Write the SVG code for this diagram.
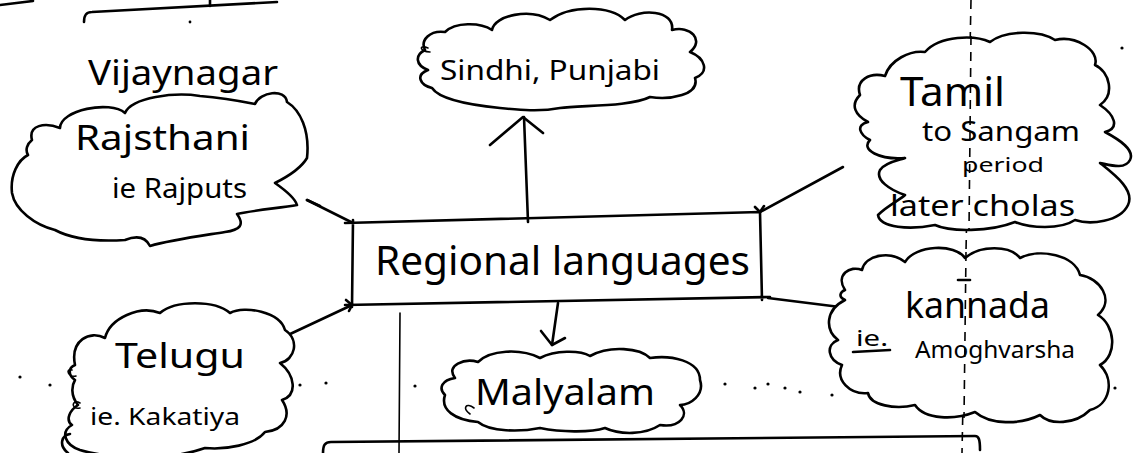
<svg xmlns="http://www.w3.org/2000/svg" width="1138" height="453" viewBox="0 0 1138 453">
  <style>
    .ink { fill: none; stroke: #000; stroke-width: 2.6; stroke-linecap: round; stroke-linejoin: round; }
    .thin { fill: none; stroke: #000; stroke-width: 1.6; stroke-linecap: round; }
    .dash { fill: none; stroke: #000; stroke-width: 1.6; stroke-dasharray: 9 7; }
    .cloud { fill: #fff; stroke: #000; stroke-width: 2.6; stroke-linejoin: round; }
    .hand { font-family: "Noto Sans", "DejaVu Sans", sans-serif; fill: #000; }
    .dot { fill: #000; }
  </style>
  <rect width="1138" height="453" fill="#fff"/>

  <!-- page rules and guide lines -->
  <g id="guides">
    <path class="ink" d="M0,5 L33,1"/>
    <path class="ink" d="M84,22 C84,15 86,12 92,12 L277,2"/>
    <path class="ink" d="M210,0 L210,6"/>
    <path class="dash" d="M971,0 L962,453"/>
    <path class="thin" d="M400,313 L399,453"/>
    <path class="ink" d="M323,453 C323,445 325,442 331,442 L975,436 C979,436 980,440 980,450"/>
    <g class="dot">
      <circle cx="20" cy="377" r="1.6"/><circle cx="50" cy="385" r="1.6"/><circle cx="140" cy="383" r="1.6"/>
      <circle cx="165" cy="382" r="1.6"/><circle cx="200" cy="381" r="1.6"/><circle cx="250" cy="386" r="1.6"/>
      <circle cx="300" cy="385" r="1.6"/><circle cx="326" cy="383" r="1.6"/><circle cx="415" cy="386" r="1.6"/>
      <circle cx="685" cy="387" r="1.6"/><circle cx="725" cy="384" r="1.6"/><circle cx="755" cy="388" r="1.6"/>
      <circle cx="768" cy="384" r="1.6"/><circle cx="785" cy="388" r="1.6"/><circle cx="800" cy="392" r="1.6"/>
      <circle cx="832" cy="395" r="1.6"/><circle cx="905" cy="388" r="1.6"/><circle cx="920" cy="387" r="1.6"/>
      <circle cx="953" cy="391" r="1.6"/><circle cx="984" cy="387" r="1.6"/><circle cx="1010" cy="390" r="1.6"/>
      <circle cx="1050" cy="388" r="1.6"/><circle cx="1065" cy="387" r="1.6"/><circle cx="1078" cy="389" r="1.6"/>
      <circle cx="1115" cy="388" r="1.6"/><circle cx="1122" cy="48" r="1.6"/><circle cx="190" cy="22" r="1.4"/>
    </g>
  </g>

  <!-- connectors from the central box -->
  <g id="connectors">
    <path class="ink" d="M528,222 L524,117"/>
    <path class="ink" d="M490,145 L523,117 L543,133"/>
    <path class="ink" d="M353,223 L307,200"/>
    <path class="ink" d="M307,200 L320,206"/>
    <path class="ink" d="M760,212 L843,167"/>
    <path class="ink" d="M755,207 L760,212 L764,206"/>
    <path class="ink" d="M768,298 L848,308"/>
    <path class="ink" d="M352,305 L288,335"/>
    <path class="ink" d="M346,300 L352,305 L349,311"/>
    <path class="ink" d="M558,303 L552,345"/>
    <path class="ink" d="M541,331 L552,345 L565,338"/>
  </g>

  <g id="heading-vijaynagar">
    <text class="hand" x="88" y="85" font-size="34" textLength="190" lengthAdjust="spacingAndGlyphs">Vijaynagar</text>
  </g>

  <g id="node-rajasthani">
    <path class="cloud" d="M32,140 C28,125 45,122 60,128 C60,110 110,100 125,113 C132,97 175,92 200,96 C225,98 245,102 255,104 C260,92 285,88 287,102 C300,110 310,130 307,158 C300,170 285,178 275,183 C285,190 295,198 297,205 C280,208 255,210 237,214 C245,225 240,230 225,232 C200,236 170,240 150,246 C145,236 135,236 125,240 C95,242 70,238 55,230 C35,225 15,210 12,193 C10,175 18,160 28,155 C25,150 27,144 32,140 Z"/>
    <text class="hand" x="75" y="150" font-size="34" textLength="175" lengthAdjust="spacingAndGlyphs">Rajsthani</text>
    <text class="hand" x="112" y="198" font-size="28" textLength="135" lengthAdjust="spacingAndGlyphs">ie Rajputs</text>
  </g>

  <g id="node-sindhi">
    <path class="cloud" d="M425,50 C420,40 430,30 445,32 C455,22 480,22 492,30 C495,15 530,8 550,20 C570,5 610,5 625,20 C640,8 675,10 672,30 C690,25 705,40 690,52 C705,58 710,72 695,78 C700,95 670,100 650,97 C630,107 580,105 560,108 C540,112 520,110 500,108 C470,105 440,100 432,88 C420,85 415,75 428,70 C415,65 415,55 425,50 Z"/>
    <path class="thin" d="M428,48 C418,44 420,52 430,52"/>
    <text class="hand" x="440" y="80" font-size="28" textLength="220" lengthAdjust="spacingAndGlyphs">Sindhi, Punjabi</text>
  </g>

  <g id="node-tamil">
    <path class="cloud" d="M860,95 C855,80 870,72 885,76 C890,60 910,50 925,52 C940,35 975,35 990,42 C1005,30 1040,30 1055,40 C1075,35 1100,50 1095,65 C1110,72 1115,95 1100,105 C1115,115 1120,128 1105,132 C1120,140 1135,150 1130,160 C1125,170 1110,165 1100,163 C1115,175 1135,190 1128,205 C1120,222 1090,225 1075,220 C1060,230 1030,228 1015,222 C990,232 950,232 935,225 C910,230 880,228 878,215 C888,205 900,200 905,195 C890,190 875,180 880,170 C885,162 900,160 905,158 C880,160 860,150 870,140 C860,135 855,125 868,122 C855,115 850,105 860,95 Z"/>
    <path class="dash" d="M971,36 L969,230"/>
    <text class="hand" x="900" y="106" font-size="40" textLength="105" lengthAdjust="spacingAndGlyphs">Tamil</text>
    <text class="hand" x="922" y="141" font-size="27" textLength="158" lengthAdjust="spacingAndGlyphs">to Sangam</text>
    <text class="hand" x="962" y="172" font-size="19" textLength="82" lengthAdjust="spacingAndGlyphs">period</text>
    <text class="hand" x="890" y="216" font-size="29" textLength="185" lengthAdjust="spacingAndGlyphs">later cholas</text>
  </g>

  <g id="node-regional">
    <path class="ink" d="M345,223 L760,212 L762,300 M353,220 L352,307 M345,305 L770,297" stroke-width="3"/>
    <text class="hand" x="375" y="275" font-size="40" textLength="375" lengthAdjust="spacingAndGlyphs">Regional languages</text>
  </g>

  <g id="node-kannada">
    <path class="cloud" d="M845,290 C835,275 850,265 862,270 C865,255 890,250 905,262 C915,245 955,243 965,258 C980,245 1010,245 1020,258 C1040,248 1075,255 1080,275 C1100,278 1115,300 1098,315 C1115,325 1118,355 1100,365 C1115,380 1110,405 1090,410 C1075,425 1050,425 1040,415 C1020,425 990,425 975,412 C955,420 925,420 915,405 C895,410 870,405 868,393 C850,395 835,380 842,365 C828,360 825,345 838,340 C825,330 825,310 845,300 C838,297 840,292 845,290 Z"/>
    <path class="dash" d="M966,252 L964,418"/>
    <path class="ink" d="M958,280 L970,280" stroke-width="3"/>
    <text class="hand" x="905" y="318" font-size="36" textLength="145" lengthAdjust="spacingAndGlyphs">kannada</text>
    <text class="hand" x="856" y="346" font-size="22" textLength="32" lengthAdjust="spacingAndGlyphs">ie.</text>
    <path class="ink" d="M853,352 L890,350"/>
    <text class="hand" x="915" y="358" font-size="24" textLength="160" lengthAdjust="spacingAndGlyphs">Amoghvarsha</text>
  </g>

  <g id="node-telugu">
    <path class="cloud" d="M75,365 C70,340 90,330 105,338 C110,318 140,305 160,313 C175,300 215,300 230,313 C245,305 280,312 285,330 C300,340 295,360 280,363 C295,375 298,395 282,400 C292,415 285,430 265,432 C255,445 225,450 205,448 C185,455 170,456 160,456 C130,458 100,456 80,450 C65,445 60,432 72,425 C65,420 70,410 78,405 C70,395 72,385 75,380 C68,375 68,368 75,365 Z"/>
    <path class="thin" d="M80,403 C72,398 70,410 80,408 M72,370 C65,368 68,378 76,376"/>
    <path class="ink" d="M68,453 C58,445 62,435 70,434"/>
    <text class="hand" x="115" y="368" font-size="34" textLength="130" lengthAdjust="spacingAndGlyphs">Telugu</text>
    <text class="hand" x="90" y="425" font-size="24" textLength="150" lengthAdjust="spacingAndGlyphs">ie. Kakatiya</text>
  </g>

  <g id="node-malyalam">
    <path class="cloud" d="M455,378 C445,365 465,358 478,362 C490,350 520,348 540,358 C555,350 580,350 590,356 C610,345 640,348 650,358 C670,355 700,360 700,380 C705,395 690,405 680,405 C690,415 680,428 660,425 C645,435 620,435 605,428 C590,433 560,432 540,428 C520,432 490,432 478,422 C455,420 440,410 445,395 C438,388 442,380 455,378 Z"/>
    <path class="thin" d="M470,414 C462,408 466,402 474,408"/>
    <text class="hand" x="475" y="405" font-size="36" textLength="180" lengthAdjust="spacingAndGlyphs">Malyalam</text>
  </g>
</svg>
